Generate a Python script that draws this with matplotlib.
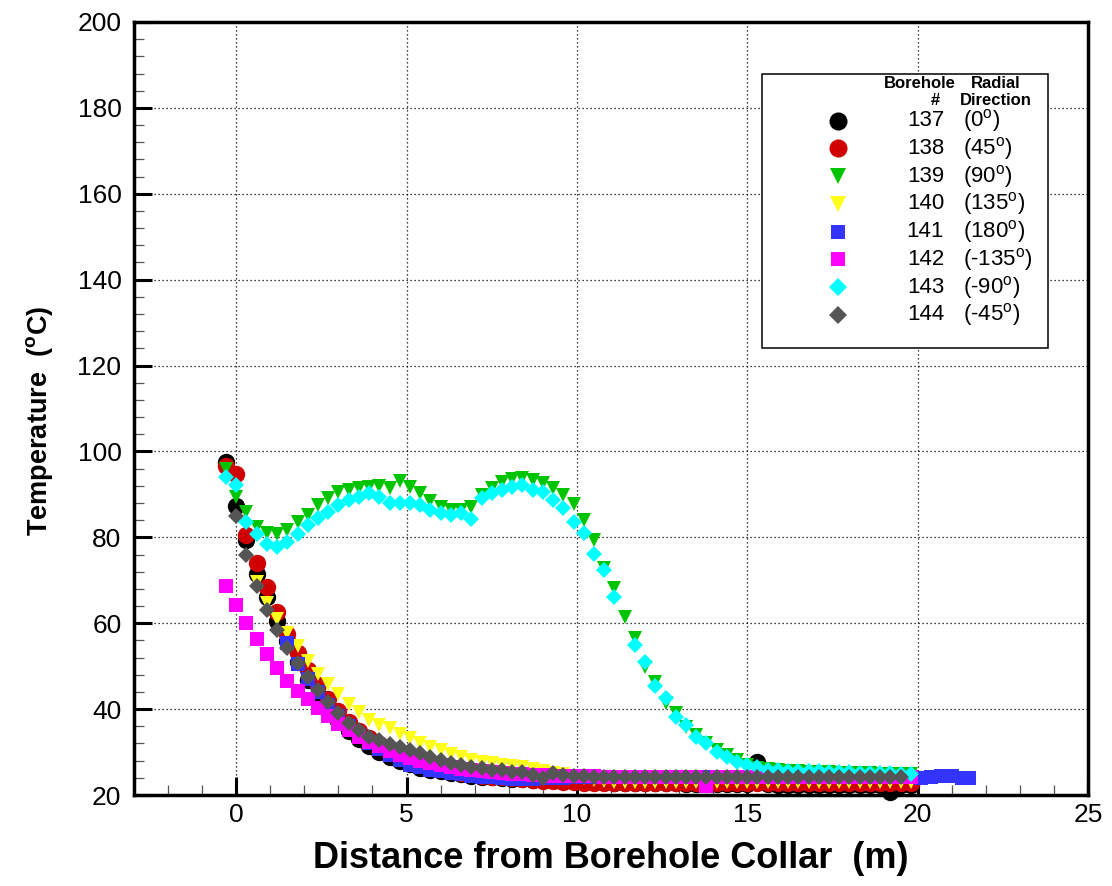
import numpy as np
import matplotlib

matplotlib.use("Agg")
import matplotlib.pyplot as plt
from matplotlib.patches import Rectangle
from matplotlib.ticker import MultipleLocator

OUTPUT_PATH = "out.png"

# Distancia desde el collar (m), lecturas cada ~0.3 m
DISTANCE_M = [
    -0.3, 0.0, 0.3, 0.6, 0.9, 1.2, 1.5, 1.8, 2.1, 2.4,
    2.7, 3.0, 3.3, 3.6, 3.9, 4.2, 4.5, 4.8, 5.1, 5.4,
    5.7, 6.0, 6.3, 6.6, 6.9, 7.2, 7.5, 7.8, 8.1, 8.4,
    8.7, 9.0, 9.3, 9.6, 9.9, 10.2, 10.5, 10.8, 11.1, 11.4,
    11.7, 12.0, 12.3, 12.6, 12.9, 13.2, 13.5, 13.8, 14.1, 14.4,
    14.7, 15.0, 15.3, 15.6, 15.9, 16.2, 16.5, 16.8, 17.1, 17.4,
    17.7, 18.0, 18.3, 18.6, 18.9, 19.2, 19.5, 19.8, 20.1, 20.4,
    20.7, 21.0, 21.3, 21.5,
]

# Temperaturas (C) por sondaje; el primer valor corresponde a DISTANCE_M[START]
TEMP_137 = [
    97.5, 87.3, 79.4, 71.5, 66.0, 60.5, 55.8, 51.0, 46.8, 43.2,
    40.0, 37.3, 35.0, 33.0, 31.3, 29.9, 28.8, 28.0, 27.2, 26.4,
    25.9, 25.5, 25.1, 24.8, 24.5, 24.3, 24.1, 24.0, 23.8, 23.7,
    23.6, 23.5, 23.4, 23.3, 23.2, 23.1, 23.0, 23.0, 22.9, 22.9,
    22.8, 22.8, 22.7, 22.7, 22.7, 22.6, 22.6, 22.6, 22.5, 22.5,
    22.5, 22.5, 27.6, 22.5, 22.4, 22.4, 22.4, 22.4, 22.4, 22.4,
    22.4, 22.4, 22.4, 22.4, 22.4, 20.6, 22.4, 22.4,
]
TEMP_138 = [
    96.6, 94.8, 80.5, 74.0, 68.5, 62.5, 57.5, 53.0, 49.0, 45.5,
    42.3, 39.5, 37.0, 35.0, 33.3, 31.8, 30.5, 29.3, 28.3, 27.4,
    26.7, 26.0, 25.5, 25.1, 24.8, 24.5, 24.3, 24.1, 23.9, 23.7,
    23.5, 23.3, 23.2, 23.1, 23.0, 22.9, 22.9, 22.8, 22.8, 22.8,
    22.7, 22.7, 22.7, 22.7, 22.7, 22.7, 22.7, 22.7, 22.7, 22.7,
    22.7, 22.7, 22.7, 22.7, 22.7, 22.7, 22.7, 22.7, 22.7, 22.7,
    22.7, 22.7, 22.7, 22.7, 22.7, 22.7, 22.7, 22.7,
]
TEMP_139 = [
    95.9, 89.4, 85.9, 82.4, 81.0, 80.8, 81.7, 83.6, 85.2, 87.5,
    89.2, 90.6, 91.0, 91.5, 91.7, 92.0, 91.5, 93.0, 91.7, 90.3,
    88.5, 87.1, 86.4, 86.4, 87.1, 89.8, 91.5, 92.9, 93.6, 93.8,
    93.4, 92.7, 91.5, 89.9, 87.8, 84.0, 79.4, 72.9, 68.2, 61.5,
    56.6, 49.8, 46.3, 41.4, 39.1, 35.8, 34.0, 32.1, 30.5, 29.3,
    28.2, 27.0, 26.4, 26.0, 25.8, 25.6, 25.5, 25.4, 25.4, 25.3,
    25.2, 25.2, 25.1, 25.1, 25.0, 25.0, 25.0, 25.0,
]
TEMP_140 = [
    69.5, 64.6, 60.9, 57.8, 54.8, 51.3, 48.2, 45.8, 43.5, 41.3,
    39.3, 37.5, 36.3, 35.5, 34.3, 33.2, 32.1, 31.1, 30.4, 29.6,
    28.8, 28.2, 27.7, 27.4, 27.0, 26.8, 26.5, 26.0, 25.6, 25.2,
    24.8, 24.4, 24.0, 23.6, 23.3, 23.1, 23.0, 23.0, 23.0, 23.0,
    23.0, 23.0, 23.0, 23.0, 23.0, 23.0, 23.0, 23.0, 23.0, 23.0,
    23.0, 23.0, 23.0, 23.0, 23.0, 23.0, 23.0, 23.0, 23.0, 23.0,
    23.0, 23.0, 23.0, 23.0, 23.0,
]
TEMP_141 = [
    55.4, 50.5, 47.0, 44.0, 41.0, 38.3, 36.0, 34.0, 32.2, 30.6,
    29.3, 28.2, 27.0, 26.5, 25.9, 25.5, 25.1, 24.8, 24.5, 24.3,
    24.1, 24.0, 23.8, 23.8, 23.8, 23.9, 24.0, 24.0, 24.1, 24.1,
    24.2, 24.2, 24.2, 24.2, 24.2, 24.2, 24.2, 24.2, 24.2, 24.2,
    24.2, 24.2, 24.2, 24.2, 24.2, 24.2, 24.2, 24.2, 24.2, 24.2,
    24.2, 24.2, 24.2, 24.2, 24.2, 24.2, 24.2, 24.2, 24.2, 24.2,
    24.2, 24.2, 24.0, 24.2, 24.5, 24.5, 24.0, 24.0,
]
TEMP_142 = [
    68.7, 64.2, 60.1, 56.3, 52.8, 49.6, 46.5, 44.3, 42.3, 40.3,
    38.3, 36.6, 35.1, 33.6, 32.4, 31.3, 30.2, 29.3, 28.6, 28.0,
    27.4, 26.9, 26.5, 26.1, 25.8, 25.5, 25.3, 25.1, 24.9, 24.8,
    24.7, 24.6, 24.5, 24.5, 24.4, 24.4, 24.4, 24.3, 24.3, 24.3,
    24.3, 24.3, 24.3, 24.3, 24.2, 24.2, 24.2, 22.0, 24.2, 24.2,
    24.2, 24.2, 24.2, 24.2, 24.2, 24.2, 24.2, 24.2, 24.2, 24.2,
    24.2, 24.2, 24.2, 24.2, 24.2, 24.2, 24.2, 24.2,
]
TEMP_143 = [
    94.1, 92.2, 83.6, 80.8, 78.5, 77.8, 78.9, 80.8, 82.9, 84.5,
    85.9, 87.5, 88.7, 89.4, 90.3, 89.3, 88.1, 88.0, 88.0, 87.5,
    86.4, 85.7, 85.2, 85.7, 84.3, 89.2, 90.3, 91.0, 91.7, 92.2,
    91.0, 90.6, 88.7, 86.8, 83.6, 81.1, 76.2, 72.4, 66.1, None,
    54.9, 51.0, 45.4, 42.6, 38.2, 36.3, 33.5, 32.1, 30.0, 28.8,
    27.7, 27.0, 26.5, 25.8, 25.8, 25.7, 25.6, 25.5, 25.5, 25.4,
    25.3, 25.3, 25.2, 25.2, 25.1, 25.1, 25.0, 25.0,
]
TEMP_144 = [
    85.0, 75.9, 68.7, 63.1, 58.4, 54.2, 50.7, 47.5, 44.5,
    41.7, 39.1, 36.8, 35.1, 33.6, 32.7, 31.9, 31.2, 30.5, 29.8,
    28.8, 28.2, 27.5, 27.0, 26.5, 26.3, 25.8, 25.8, 25.4, 25.4,
    24.7, 24.0, 25.1, 24.7, 24.5, 24.4, 24.3, 24.2, 24.2, 24.1,
    24.1, 24.1, 24.1, 24.1, 24.1, 24.1, 24.1, 24.1, 24.1, 24.1,
    24.1, 24.1, 24.1, 24.1, 24.1, 24.1, 24.1, 24.1, 24.1, 24.1,
    24.1, 24.1, 24.1, 24.1, 24.1, 24.1, 24.1,
]

BOREHOLES = ["137", "138", "139", "140", "141", "142", "143", "144"]
DIRECTIONS = [
    "(0$^o$)", "(45$^o$)", "(90$^o$)", "(135$^o$)",
    "(180$^o$)", "(-135$^o$)", "(-90$^o$)", "(-45$^o$)",
]
START_INDEX = [0, 0, 0, 3, 6, 0, 0, 1]

COLORS = ["#000000", "#D00000", "#00C400", "#FFFF1A",
          "#3434FF", "#FF00FF", "#00FFFF", "#555555"]
MARKERS = ["o", "o", "v", "v", "s", "s", "D", "D"]
PLOT_SIZES = [12.5, 12.5, 10.0, 10.0, 10.3, 10.3, 8.3, 8.3]
LEGEND_SIZES = [13.0, 13.0, 11.5, 11.5, 9.5, 9.5, 9.0, 9.0]

plt.rcParams["font.family"] = ["Liberation Sans", "DejaVu Sans"]
plt.rcParams["mathtext.default"] = "regular"


def draw_legend(ax) -> None:
    """Leyenda dibujada a mano, con cabecera de dos columnas."""
    ax.add_patch(Rectangle((0.658, 0.578), 0.300, 0.355, transform=ax.transAxes,
                           facecolor="white", edgecolor="black", linewidth=1.1, zorder=5))

    head = dict(transform=ax.transAxes, fontsize=12, fontweight="bold",
                ha="center", va="center", zorder=6)
    ax.text(0.824, 0.921, "Borehole", **head)
    ax.text(0.9036, 0.921, "Radial", **head)
    ax.text(0.8396, 0.899, "#", **head)
    ax.text(0.9036, 0.899, "Direction", **head)

    y0, step = 0.8723, 0.0359
    for i, (num, direction) in enumerate(zip(BOREHOLES, DIRECTIONS)):
        y = y0 - i * step
        ax.plot([0.7379], [y], transform=ax.transAxes, linestyle="none",
                marker=MARKERS[i], markersize=LEGEND_SIZES[i], color=COLORS[i],
                markeredgewidth=0, zorder=6, clip_on=False)
        ax.text(0.8491, y, num, transform=ax.transAxes, fontsize=16,
                ha="right", va="center", zorder=6)
        ax.text(0.8690, y, direction, transform=ax.transAxes, fontsize=16,
                ha="left", va="center", zorder=6)


def main() -> None:
    fig = plt.figure(figsize=(11.12, 8.86), dpi=100)
    ax = fig.add_axes([0.1205, 0.1027, 0.8579, 0.8725])

    distance = np.array(DISTANCE_M, dtype=float)
    series = [TEMP_137, TEMP_138, TEMP_139, TEMP_140,
              TEMP_141, TEMP_142, TEMP_143, TEMP_144]

    for i, temps in enumerate(series):
        t = np.array(temps, dtype=float)
        x = distance[START_INDEX[i]:START_INDEX[i] + len(t)]
        ax.plot(x, t, linestyle="none", marker=MARKERS[i],
                markersize=PLOT_SIZES[i], color=COLORS[i],
                markeredgewidth=0, zorder=3, clip_on=False)

    ax.set_xlim(-3, 25)
    ax.set_ylim(20, 200)
    ax.xaxis.set_major_locator(MultipleLocator(5))
    ax.xaxis.set_minor_locator(MultipleLocator(1))
    ax.yaxis.set_major_locator(MultipleLocator(20))
    ax.yaxis.set_minor_locator(MultipleLocator(4))

    ax.tick_params(which="major", direction="in", length=13, width=2.2,
                   labelsize=19, top=False, right=False)
    ax.tick_params(which="minor", direction="in", length=7, width=0.9,
                   color="#555555", top=False, right=False)
    ax.tick_params(axis="y", which="major", pad=9)
    ax.tick_params(axis="x", which="major", pad=6)

    for spine in ax.spines.values():
        spine.set_linewidth(2.5)

    ax.grid(True, which="major", linestyle=(0, (1, 2.2)), color="black", linewidth=0.9)
    ax.set_axisbelow(True)

    ax.set_xlabel("Distance from Borehole Collar  (m)", fontsize=26,
                  fontweight="bold")
    ax.set_ylabel("Temperature  ($^o$C)", fontsize=19.5, fontweight="bold")
    ax.xaxis.set_label_coords(0.5, -0.060)
    ax.yaxis.set_label_coords(-0.083, 0.484)

    draw_legend(ax)

    fig.savefig(OUTPUT_PATH, dpi=100)
    plt.close(fig)


if __name__ == "__main__":
    main()
